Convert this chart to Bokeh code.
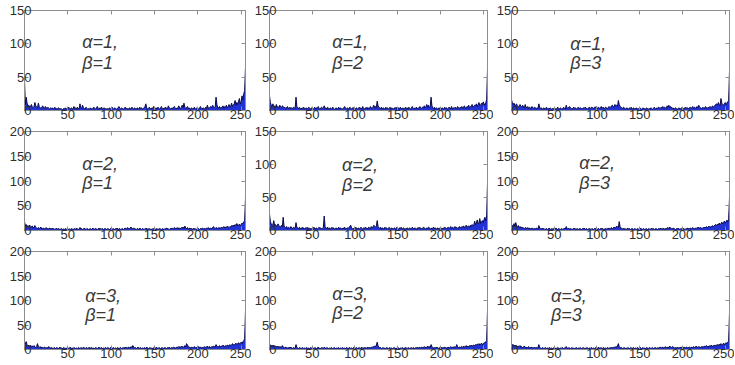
from bokeh.plotting import figure
from bokeh.models import Range1d, FixedTicker, LinearAxis, Label
from bokeh.layouts import column, row
from bokeh.embed import file_html
from bokeh.resources import INLINE

# ---------------- data (histogram counts, 256 grey levels) ----------------
hist_a1_b1 = [
    45, 9, 20, 11, 7, 8, 5, 6, 9, 5, 4, 6, 12, 7, 5, 4,
    11, 6, 4, 3, 5, 7, 4, 3, 6, 4, 3, 5, 3, 2, 4, 3,
    4, 2, 3, 5, 2, 3, 2, 4, 3, 2, 3, 2, 1, 3, 2, 4,
    2, 3, 2, 5, 3, 2, 4, 3, 2, 6, 3, 4, 2, 5, 3, 2,
    10, 4, 3, 8, 4, 3, 2, 5, 3, 2, 3, 2, 4, 2, 3, 2,
    5, 3, 2, 4, 6, 3, 2, 4, 3, 5, 2, 3, 4, 2, 3, 2,
    3, 2, 4, 3, 2, 5, 3, 2, 4, 3, 2, 3, 4, 6, 3, 2,
    4, 3, 2, 3, 5, 4, 2, 3, 2, 4, 3, 2, 5, 3, 2, 4,
    3, 2, 4, 3, 2, 5, 3, 4, 2, 3, 4, 6, 10, 4, 2, 3,
    5, 3, 2, 4, 3, 6, 2, 3, 4, 2, 5, 3, 2, 4, 6, 3,
    2, 4, 3, 5, 2, 3, 7, 4, 3, 2, 4, 3, 5, 6, 3, 2,
    4, 3, 7, 4, 3, 5, 8, 4, 11, 5, 3, 4, 6, 3, 4, 2,
    3, 4, 2, 3, 5, 2, 3, 4, 3, 2, 4, 6, 3, 2, 4, 3,
    2, 5, 3, 8, 4, 3, 5, 6, 4, 8, 6, 4, 5, 20, 9, 4,
    4, 6, 3, 5, 4, 7, 3, 6, 5, 8, 4, 6, 9, 5, 7, 11,
    6, 8, 10, 15, 8, 12, 9, 14, 18, 10, 13, 22, 16, 25, 30, 65,
]
hist_a1_b2 = [
    22, 12, 8, 6, 10, 5, 7, 4, 9, 5, 6, 4, 8, 5, 4, 7,
    6, 4, 5, 3, 4, 6, 3, 4, 5, 3, 4, 3, 5, 4, 3, 20,
    6, 4, 3, 5, 3, 2, 4, 3, 5, 2, 3, 4, 2, 3, 5, 3,
    2, 4, 3, 2, 3, 5, 2, 4, 3, 6, 3, 2, 4, 5, 3, 4,
    7, 3, 4, 2, 5, 3, 2, 4, 3, 2, 5, 3, 2, 3, 4, 2,
    3, 5, 2, 4, 3, 2, 3, 4, 6, 3, 2, 4, 3, 2, 5, 3,
    2, 4, 3, 5, 2, 3, 4, 2, 3, 5, 3, 4, 2, 6, 3, 2,
    4, 3, 5, 2, 4, 3, 6, 4, 3, 5, 8, 4, 6, 5, 14, 7,
    5, 4, 3, 5, 2, 4, 3, 2, 5, 3, 4, 2, 3, 5, 2, 4,
    3, 2, 4, 3, 5, 2, 3, 4, 2, 5, 3, 2, 4, 3, 2, 5,
    3, 4, 2, 5, 3, 2, 4, 6, 3, 2, 4, 3, 5, 2, 4, 3,
    6, 4, 3, 5, 4, 7, 4, 6, 9, 5, 8, 4, 6, 20, 7, 4,
    3, 5, 2, 4, 3, 2, 4, 3, 5, 2, 4, 3, 2, 5, 3, 4,
    2, 3, 5, 4, 3, 6, 2, 4, 3, 5, 4, 3, 6, 4, 3, 5,
    4, 6, 3, 5, 7, 4, 3, 6, 5, 8, 4, 5, 7, 9, 5, 6,
    8, 7, 10, 6, 9, 12, 7, 8, 11, 9, 13, 10, 8, 12, 16, 62,
]
hist_a1_b3 = [
    16, 12, 9, 11, 7, 8, 10, 6, 5, 7, 9, 6, 5, 8, 6, 4,
    9, 5, 4, 6, 3, 5, 4, 3, 6, 4, 3, 5, 4, 3, 4, 3,
    10, 5, 3, 4, 2, 3, 4, 2, 3, 5, 2, 3, 2, 4, 3, 2,
    3, 2, 4, 2, 3, 2, 5, 3, 2, 4, 3, 2, 3, 5, 3, 2,
    8, 4, 3, 5, 6, 4, 3, 2, 4, 5, 3, 4, 2, 3, 5, 4,
    3, 4, 2, 3, 4, 3, 5, 4, 3, 2, 4, 5, 3, 4, 5, 4,
    3, 5, 4, 6, 3, 4, 5, 3, 4, 6, 3, 5, 4, 3, 5, 4,
    3, 4, 6, 4, 5, 7, 8, 6, 5, 9, 7, 8, 6, 15, 9, 6,
    5, 4, 3, 5, 4, 2, 3, 4, 3, 2, 4, 3, 5, 2, 3, 4,
    2, 3, 4, 2, 3, 2, 4, 3, 2, 3, 4, 2, 3, 2, 4, 3,
    2, 3, 2, 4, 3, 2, 3, 5, 3, 2, 4, 3, 5, 4, 3, 5,
    4, 6, 3, 5, 4, 3, 7, 5, 8, 4, 6, 5, 3, 4, 2, 3,
    4, 3, 2, 3, 4, 2, 3, 4, 3, 2, 4, 3, 5, 3, 4, 3,
    4, 5, 3, 4, 6, 3, 5, 4, 3, 6, 4, 8, 5, 4, 3, 4,
    5, 3, 4, 6, 4, 3, 5, 4, 6, 5, 4, 7, 5, 6, 8, 9,
    10, 8, 12, 9, 7, 18, 11, 9, 8, 10, 12, 9, 11, 13, 15, 60,
]
hist_a2_b1 = [
    18, 9, 12, 8, 10, 7, 11, 6, 8, 9, 5, 7, 10, 6, 5, 4,
    6, 4, 5, 7, 3, 4, 5, 3, 4, 6, 3, 4, 3, 5, 4, 3,
    5, 3, 4, 2, 3, 5, 2, 4, 3, 2, 3, 4, 2, 3, 2, 4,
    3, 2, 4, 2, 3, 2, 4, 3, 2, 3, 4, 2, 5, 3, 2, 3,
    6, 3, 4, 2, 3, 5, 3, 2, 4, 3, 2, 3, 4, 2, 3, 5,
    2, 3, 4, 3, 2, 4, 3, 5, 2, 3, 4, 2, 3, 4, 3, 2,
    4, 3, 2, 3, 5, 2, 4, 3, 2, 4, 3, 5, 2, 3, 4, 2,
    3, 4, 2, 3, 5, 4, 3, 6, 4, 3, 5, 7, 4, 3, 5, 4,
    3, 2, 4, 3, 2, 5, 3, 2, 4, 3, 2, 4, 3, 5, 2, 3,
    4, 2, 3, 2, 4, 3, 5, 2, 3, 4, 2, 3, 4, 3, 2, 4,
    3, 2, 4, 3, 5, 4, 3, 2, 4, 3, 5, 4, 3, 6, 4, 5,
    4, 6, 3, 5, 4, 6, 5, 7, 4, 9, 5, 4, 6, 3, 4, 5,
    3, 4, 2, 5, 3, 4, 2, 3, 5, 3, 2, 4, 3, 5, 4, 3,
    4, 3, 5, 4, 6, 3, 4, 5, 3, 6, 8, 5, 4, 6, 5, 4,
    6, 5, 4, 7, 5, 6, 8, 5, 7, 6, 9, 7, 6, 8, 7, 10,
    9, 11, 8, 12, 10, 14, 9, 11, 13, 10, 12, 15, 14, 17, 20, 66,
]
hist_a2_b2 = [
    25, 14, 10, 8, 9, 15, 7, 9, 6, 8, 10, 7, 6, 5, 8, 6,
    20, 7, 5, 4, 6, 3, 5, 4, 3, 6, 4, 3, 5, 4, 3, 12,
    5, 4, 3, 5, 2, 4, 3, 5, 2, 3, 4, 3, 5, 2, 4, 3,
    3, 2, 4, 3, 5, 2, 3, 4, 2, 3, 5, 3, 4, 2, 3, 5,
    22, 6, 4, 3, 5, 2, 4, 3, 2, 5, 3, 4, 2, 3, 4, 2,
    3, 5, 2, 4, 3, 2, 4, 3, 5, 2, 3, 4, 3, 5, 6, 8,
    4, 3, 2, 4, 3, 5, 2, 3, 4, 2, 3, 5, 3, 2, 4, 3,
    5, 3, 4, 2, 5, 4, 3, 6, 4, 5, 8, 6, 5, 7, 15, 6,
    4, 3, 5, 2, 4, 3, 2, 5, 3, 4, 2, 3, 5, 3, 2, 4,
    3, 2, 4, 3, 2, 5, 3, 2, 4, 3, 5, 2, 3, 4, 2, 3,
    2, 4, 3, 2, 4, 3, 2, 5, 3, 2, 4, 3, 2, 4, 3, 5,
    3, 4, 2, 3, 5, 4, 3, 2, 4, 3, 5, 4, 3, 2, 4, 3,
    5, 3, 4, 2, 3, 4, 2, 3, 5, 3, 2, 4, 3, 5, 4, 3,
    4, 5, 3, 4, 6, 3, 5, 4, 3, 6, 4, 5, 3, 4, 6, 5,
    4, 6, 5, 7, 4, 6, 8, 5, 6, 7, 5, 8, 6, 9, 7, 8,
    14, 9, 11, 16, 10, 12, 18, 11, 13, 15, 12, 17, 20, 15, 22, 72,
]
hist_a2_b3 = [
    12, 10, 9, 14, 8, 16, 9, 7, 10, 6, 8, 5, 7, 6, 5, 4,
    6, 5, 4, 6, 3, 5, 4, 3, 5, 4, 3, 4, 3, 5, 4, 3,
    10, 5, 4, 3, 5, 3, 4, 2, 3, 4, 2, 3, 5, 3, 2, 4,
    3, 4, 2, 3, 5, 3, 2, 4, 3, 2, 3, 4, 2, 3, 5, 3,
    8, 4, 3, 5, 2, 4, 3, 2, 4, 3, 5, 2, 3, 4, 2, 3,
    4, 3, 2, 4, 3, 5, 2, 3, 4, 2, 3, 4, 3, 2, 4, 3,
    2, 4, 3, 5, 2, 3, 4, 2, 3, 5, 3, 4, 2, 3, 4, 3,
    4, 3, 5, 4, 3, 6, 4, 5, 7, 5, 6, 9, 7, 6, 18, 8,
    5, 4, 3, 5, 3, 4, 2, 3, 5, 3, 4, 2, 3, 4, 3, 2,
    4, 3, 2, 3, 4, 2, 3, 5, 3, 2, 4, 3, 2, 3, 4, 2,
    3, 4, 2, 3, 5, 3, 4, 2, 3, 4, 3, 2, 4, 3, 5, 3,
    4, 3, 5, 2, 4, 3, 5, 6, 4, 7, 5, 4, 3, 5, 4, 3,
    2, 4, 3, 5, 3, 2, 4, 3, 5, 4, 3, 2, 4, 3, 5, 4,
    3, 5, 4, 3, 6, 4, 3, 5, 4, 6, 5, 7, 4, 6, 5, 4,
    6, 5, 7, 5, 8, 6, 7, 9, 6, 8, 7, 10, 8, 9, 11, 12,
    10, 13, 11, 15, 12, 14, 17, 13, 16, 19, 15, 18, 21, 17, 24, 66,
]
hist_a3_b1 = [
    15, 12, 16, 9, 7, 8, 6, 9, 5, 7, 6, 8, 5, 4, 6, 12,
    5, 4, 6, 3, 5, 4, 3, 5, 4, 3, 4, 3, 6, 4, 3, 4,
    3, 2, 4, 3, 2, 4, 3, 2, 3, 5, 2, 3, 2, 4, 3, 2,
    3, 2, 4, 2, 3, 5, 2, 3, 2, 4, 3, 2, 3, 2, 4, 3,
    2, 4, 3, 2, 5, 3, 2, 3, 4, 2, 3, 5, 2, 4, 3, 2,
    3, 2, 4, 3, 2, 3, 5, 2, 3, 4, 2, 3, 2, 4, 3, 2,
    4, 3, 2, 3, 5, 2, 3, 4, 2, 3, 2, 4, 3, 2, 3, 4,
    2, 3, 4, 2, 5, 3, 4, 3, 5, 4, 3, 6, 4, 8, 5, 3,
    4, 2, 3, 5, 2, 3, 4, 2, 3, 2, 4, 3, 2, 5, 3, 2,
    3, 4, 2, 3, 2, 4, 3, 2, 5, 3, 2, 4, 3, 2, 3, 4,
    2, 3, 4, 3, 2, 4, 3, 5, 2, 3, 4, 3, 5, 4, 3, 4,
    5, 4, 6, 5, 4, 7, 5, 6, 4, 8, 5, 12, 9, 6, 5, 4,
    3, 5, 4, 3, 6, 4, 3, 5, 4, 6, 3, 5, 4, 3, 5, 4,
    6, 4, 5, 7, 4, 6, 5, 4, 6, 5, 7, 6, 5, 10, 7, 5,
    6, 8, 5, 7, 6, 9, 7, 6, 8, 7, 9, 8, 7, 10, 8, 9,
    12, 10, 9, 11, 13, 10, 12, 14, 11, 13, 15, 12, 16, 18, 22, 80,
]
hist_a3_b2 = [
    12, 8, 7, 9, 6, 8, 5, 7, 6, 5, 7, 4, 6, 5, 4, 8,
    5, 4, 3, 5, 4, 3, 4, 3, 5, 3, 4, 2, 4, 3, 2, 10,
    4, 3, 2, 4, 3, 2, 3, 4, 2, 3, 2, 4, 3, 2, 3, 2,
    4, 3, 2, 3, 2, 4, 3, 2, 3, 5, 2, 3, 2, 4, 3, 2,
    5, 3, 2, 4, 3, 2, 3, 2, 4, 3, 2, 3, 4, 2, 3, 2,
    3, 4, 2, 3, 2, 4, 3, 2, 3, 2, 4, 3, 2, 3, 4, 2,
    3, 2, 4, 3, 2, 3, 4, 2, 3, 4, 2, 3, 5, 2, 3, 4,
    3, 4, 2, 5, 3, 4, 3, 5, 4, 6, 5, 7, 6, 9, 15, 7,
    5, 3, 4, 2, 3, 4, 2, 3, 2, 4, 3, 2, 3, 4, 2, 3,
    2, 3, 4, 2, 3, 2, 4, 3, 2, 3, 2, 4, 3, 2, 3, 4,
    3, 2, 4, 3, 2, 3, 4, 2, 4, 3, 2, 4, 3, 5, 3, 4,
    4, 3, 5, 4, 3, 6, 4, 5, 4, 7, 5, 6, 4, 10, 6, 4,
    3, 4, 3, 5, 3, 4, 2, 4, 3, 5, 3, 4, 3, 5, 4, 3,
    4, 5, 3, 4, 6, 4, 5, 3, 6, 4, 5, 10, 6, 4, 5, 4,
    5, 6, 4, 7, 5, 6, 8, 5, 7, 6, 8, 7, 9, 7, 8, 9,
    8, 10, 9, 11, 10, 12, 9, 11, 13, 10, 12, 14, 13, 16, 18, 80,
]
hist_a3_b3 = [
    12, 9, 10, 7, 9, 6, 8, 5, 7, 6, 8, 5, 6, 4, 5, 7,
    4, 5, 3, 4, 6, 3, 4, 5, 3, 4, 3, 5, 3, 4, 3, 4,
    10, 4, 3, 2, 4, 3, 2, 3, 4, 2, 3, 2, 4, 3, 2, 3,
    2, 3, 4, 2, 3, 2, 4, 3, 2, 3, 2, 4, 3, 2, 3, 4,
    6, 3, 2, 4, 3, 2, 3, 4, 2, 3, 2, 3, 4, 2, 3, 2,
    4, 3, 2, 3, 4, 2, 3, 2, 4, 3, 2, 3, 2, 4, 3, 2,
    3, 2, 4, 3, 2, 3, 5, 2, 3, 4, 2, 3, 4, 2, 3, 2,
    4, 3, 2, 4, 3, 5, 3, 4, 5, 4, 6, 5, 7, 12, 6, 4,
    3, 4, 2, 3, 4, 2, 3, 2, 4, 3, 2, 3, 4, 2, 3, 4,
    2, 3, 2, 4, 3, 2, 3, 4, 2, 3, 4, 2, 3, 2, 4, 3,
    2, 4, 3, 2, 3, 4, 2, 3, 4, 3, 2, 4, 3, 4, 5, 3,
    4, 5, 3, 4, 6, 4, 3, 5, 4, 7, 5, 4, 6, 5, 4, 3,
    4, 3, 5, 3, 4, 3, 5, 4, 3, 4, 5, 3, 4, 5, 3, 4,
    5, 4, 3, 5, 4, 6, 4, 5, 7, 5, 4, 6, 5, 4, 6, 5,
    6, 5, 7, 6, 8, 6, 7, 5, 8, 7, 9, 6, 8, 7, 9, 8,
    9, 10, 8, 11, 9, 12, 10, 9, 13, 11, 10, 14, 12, 15, 17, 75,
]

x_ticks = [0, 50, 100, 150, 200, 250]
y_ticks_150 = [0, 50, 100, 150]
y_ticks_200 = [0, 50, 100, 150, 200]

alpha_text = ["α=1,", "α=1,", "α=1,", "α=2,", "α=2,", "α=2,", "α=3,", "α=3,", "α=3,"]
beta_text = ["β=1", "β=2", "β=3", "β=1", "β=2", "β=3", "β=1", "β=2", "β=3"]
hists = [hist_a1_b1, hist_a1_b2, hist_a1_b3,
         hist_a2_b1, hist_a2_b2, hist_a2_b3,
         hist_a3_b1, hist_a3_b2, hist_a3_b3]
y_max = [150, 150, 150, 200, 150, 200, 200, 200, 200]

# ---------------- layout / style ----------------
# annotation anchor as fraction of the frame (left, alpha line, beta line)
label_pos = [(0.261, 0.31, 0.52), (0.288, 0.31, 0.52), (0.270, 0.33, 0.52),
             (0.261, 0.33, 0.52), (0.333, 0.34, 0.54), (0.311, 0.32, 0.52),
             (0.275, 0.45, 0.65), (0.288, 0.43, 0.63), (0.181, 0.45, 0.65)]

col_border_left = [24, 15, 15]
col_border_right = [6, 6, 5]
row_border_top = [10, 7, 7]
row_frame_h = [100, 99, 98]
BORDER_BOTTOM = 14
FRAME_W = 221
AX_COLOR = "#8e8e8e"
LBL_COLOR = "#2e2e2e"
FONT = "Liberation Sans"


def style_axis(ax, ticks, show_labels, standoff=0, overrides=None):
    ax.ticker = FixedTicker(ticks=ticks)
    ax.axis_line_color = AX_COLOR
    ax.major_tick_line_color = AX_COLOR
    ax.major_tick_in = 4
    ax.major_tick_out = 0
    ax.minor_tick_line_color = None
    ax.major_label_text_font = FONT
    ax.major_label_text_color = LBL_COLOR
    if show_labels:
        ax.major_label_text_font_size = "13px"
        ax.major_label_standoff = standoff
    else:
        ax.major_label_text_font_size = "0px"
        ax.major_label_text_color = None
        ax.major_label_standoff = 0
    if overrides:
        ax.major_label_overrides = overrides


rows = []
for r in range(3):
    figs = []
    for c in range(3):
        i = r * 3 + c
        ymax = y_max[i]
        yt = y_ticks_150 if ymax == 150 else y_ticks_200
        vals = hists[i]
        xs = list(range(len(vals)))
        p = figure(width=col_border_left[c] + FRAME_W + col_border_right[c],
                   height=row_border_top[r] + row_frame_h[r] + BORDER_BOTTOM,
                   x_range=Range1d(0, 255), y_range=Range1d(0, ymax),
                   output_backend="svg", toolbar_location=None,
                   min_border_left=col_border_left[c],
                   min_border_right=col_border_right[c],
                   min_border_top=row_border_top[r],
                   min_border_bottom=BORDER_BOTTOM,
                   background_fill_color="white", border_fill_color="white")
        p.xgrid.visible = False
        p.ygrid.visible = False
        p.outline_line_color = AX_COLOR

        p.varea(x=xs, y1=[0] * len(vals), y2=vals, fill_color="#2233d6")
        p.line(xs, vals, line_color="#0a0a4a", line_width=1)

        style_axis(p.xaxis[0], x_ticks, True, -1, {0: ""})
        # tick labels overlap the axis line, as in the source figure
        style_axis(p.yaxis[0], yt, True, -7)
        top = LinearAxis()
        style_axis(top, x_ticks, False)
        p.add_layout(top, "above")
        right = LinearAxis()
        style_axis(right, yt, False)
        p.add_layout(right, "right")

        fx, fa, fb = label_pos[i]
        for txt, fy in ((alpha_text[i], fa), (beta_text[i], fb)):
            p.add_layout(Label(x=fx * 255, y=ymax * (1 - fy), text=txt,
                               text_font=FONT, text_font_style="italic",
                               text_font_size="18px", text_color="#3a3a3a",
                               text_baseline="middle", text_align="left"))
        figs.append(p)
    rows.append(row(*figs, spacing=0))

layout = column(*rows, spacing=0)
open("out.html", "w").write(file_html(layout, INLINE))
